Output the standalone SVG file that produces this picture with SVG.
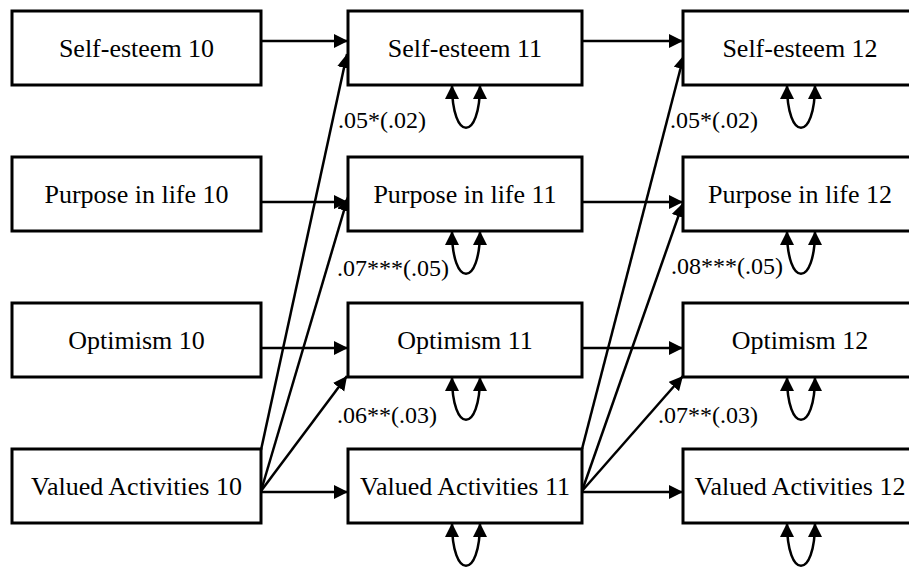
<svg xmlns="http://www.w3.org/2000/svg" width="909" height="568" viewBox="0 0 909 568">
<style>
.box{fill:#fff;stroke:#000;stroke-width:3}
.t{font-family:"Liberation Serif","Times New Roman",serif;font-size:26px;fill:#000;text-anchor:middle}
.lb{font-family:"Liberation Serif","Times New Roman",serif;font-size:24px;fill:#000}
.c{fill:none;stroke:#000;stroke-width:2.5}
.a{marker-end:url(#ah)}
.loop{fill:none;stroke:#000;stroke-width:2.5;marker-start:url(#ah);marker-end:url(#ah)}
</style>
<defs>
<marker id="ah" markerUnits="userSpaceOnUse" markerWidth="15" markerHeight="15" refX="14" refY="7" orient="auto-start-reverse" viewBox="0 0 15 15">
<path d="M0,0 L14,7 L0,14 z" fill="#000"/>
</marker>
</defs>
<rect width="909" height="568" fill="#fff"/>
<g id="connectors">
<line class="c a" x1="261" y1="41" x2="348" y2="41"/>
<line class="c a" x1="261" y1="202" x2="348" y2="202"/>
<line class="c a" x1="261" y1="348" x2="348" y2="348"/>
<line class="c a" x1="261" y1="492" x2="348" y2="492"/>
<line class="c a" x1="582" y1="41" x2="683" y2="41"/>
<line class="c a" x1="582" y1="202" x2="683" y2="202"/>
<line class="c a" x1="582" y1="348" x2="683" y2="348"/>
<line class="c a" x1="582" y1="492" x2="683" y2="492"/>
<line class="c a" x1="261" y1="450" x2="347" y2="54"/>
<line class="c a" x1="261" y1="491" x2="348" y2="197"/>
<line class="c a" x1="261" y1="491" x2="347" y2="376"/>
<line class="c a" x1="582" y1="449" x2="684" y2="55"/>
<line class="c a" x1="582" y1="491" x2="683" y2="203"/>
<line class="c a" x1="582" y1="491" x2="683" y2="376"/>
<path class="loop" d="M452,85 C452,142 480,142 480,85"/>
<path class="loop" d="M452,231 C452,288 480,288 480,231"/>
<path class="loop" d="M452,377 C452,434 480,434 480,377"/>
<path class="loop" d="M452,523 C452,580 480,580 480,523"/>
<path class="loop" d="M787,85 C787,142 815,142 815,85"/>
<path class="loop" d="M787,231 C787,288 815,288 815,231"/>
<path class="loop" d="M787,377 C787,434 815,434 815,377"/>
<path class="loop" d="M787,523 C787,580 815,580 815,523"/>
</g>
<g id="labels">
<text class="lb" x="338" y="128">.05*(.02)</text>
<text class="lb" x="337" y="276">.07***(.05)</text>
<text class="lb" x="337" y="423">.06**(.03)</text>
<text class="lb" x="670" y="128">.05*(.02)</text>
<text class="lb" x="671" y="274">.08***(.05)</text>
<text class="lb" x="658" y="423">.07**(.03)</text>
</g>
<g id="se10"><rect class="box" x="12" y="11" width="249" height="74"/><text class="t" x="136.5" y="57">Self-esteem 10</text></g>
<g id="pl10"><rect class="box" x="12" y="157" width="249" height="74"/><text class="t" x="136.5" y="203">Purpose in life 10</text></g>
<g id="op10"><rect class="box" x="12" y="303" width="249" height="74"/><text class="t" x="136.5" y="349">Optimism 10</text></g>
<g id="va10"><rect class="box" x="12" y="449" width="249" height="74"/><text class="t" x="136.5" y="495">Valued Activities 10</text></g>
<g id="se11"><rect class="box" x="348" y="11" width="234" height="74"/><text class="t" x="465" y="57">Self-esteem 11</text></g>
<g id="pl11"><rect class="box" x="348" y="157" width="234" height="74"/><text class="t" x="465" y="203">Purpose in life 11</text></g>
<g id="op11"><rect class="box" x="348" y="303" width="234" height="74"/><text class="t" x="465" y="349">Optimism 11</text></g>
<g id="va11"><rect class="box" x="348" y="449" width="234" height="74"/><text class="t" x="465" y="495">Valued Activities 11</text></g>
<g id="se12"><rect class="box" x="683" y="11" width="234" height="74"/><text class="t" x="800" y="57">Self-esteem 12</text></g>
<g id="pl12"><rect class="box" x="683" y="157" width="234" height="74"/><text class="t" x="800" y="203">Purpose in life 12</text></g>
<g id="op12"><rect class="box" x="683" y="303" width="234" height="74"/><text class="t" x="800" y="349">Optimism 12</text></g>
<g id="va12"><rect class="box" x="683" y="449" width="234" height="74"/><text class="t" x="800" y="495">Valued Activities 12</text></g>
</svg>
